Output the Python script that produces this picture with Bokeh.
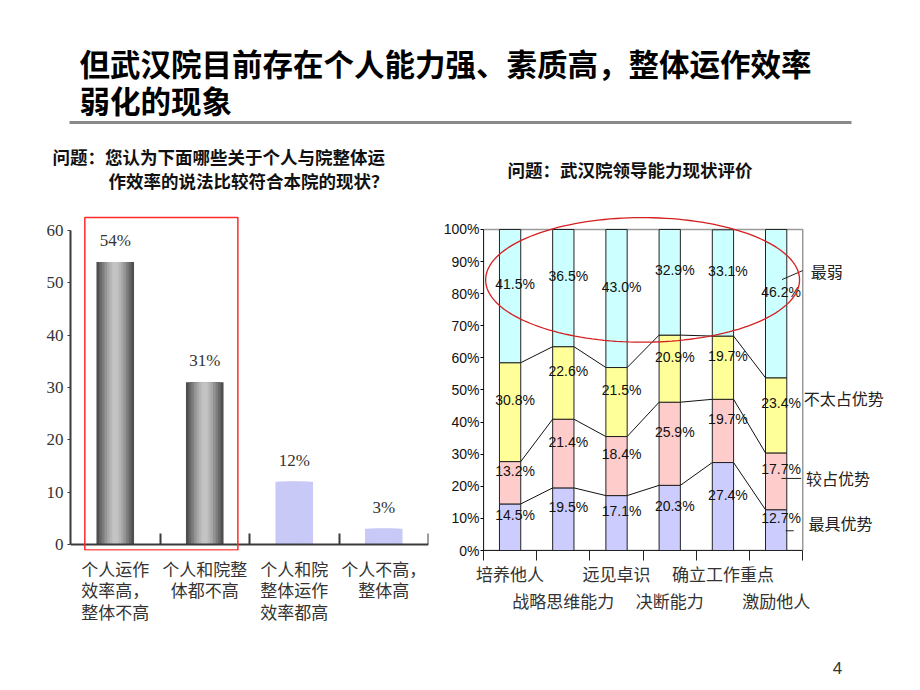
import numpy as np
from bokeh.plotting import figure
from bokeh.models import (Range1d, FixedTicker, Label, ColumnDataSource, BoxAnnotation,
                          PolyAnnotation, LinearAxis, PrintfTickFormatter)
from bokeh.layouts import column, row
from bokeh.embed import file_html
from bokeh.resources import INLINE
from bokeh.core.properties import value

# ---------------- data ----------------
title_lines = ["但武汉院目前存在个人能力强、素质高，整体运作效率", "弱化的现象"]
q_left = ["问题：您认为下面哪些关于个人与院整体运", "作效率的说法比较符合本院的现状？"]
q_right = "问题：武汉院领导能力现状评价"
page_no = "4"

left_cats = ["个人运作\n效率高，\n整体不高", "个人和院整\n体都不高", "个人和院\n整体运作\n效率都高", "个人不高，\n整体高"]
left_vals = [54, 31, 12, 3]
left_labels = ["54%", "31%", "12%", "3%"]
left_kind = ["grad", "grad", "flat", "flat"]
left_yticks = [0, 10, 20, 30, 40, 50, 60]

right_cats = ["培养他人", "战略思维能力", "远见卓识", "决断能力", "确立工作重点", "激励他人"]
series_names = ["最具优势", "较占优势", "不太占优势", "最弱"]
s_best = [14.5, 19.5, 17.1, 20.3, 27.4, 12.7]
s_good = [13.2, 21.4, 18.4, 25.9, 19.7, 17.7]
s_weakish = [30.8, 22.6, 21.5, 20.9, 19.7, 23.4]
s_weakest = [41.5, 36.5, 43.0, 32.9, 33.1, 46.2]
right_yticks = list(range(0, 101, 10))

# ---------------- styles ----------------
CJK = "Noto Sans CJK SC"
SERIF = "'Liberation Serif', 'Noto Sans CJK SC'"
SANS = "'Liberation Sans', 'Noto Sans CJK SC'"
series_colors = ["#ccccff", "#ffcccc", "#ffff99", "#ccffff"]

# ---------------- header ----------------
HDR_H = 195
hdr = figure(width=920, height=HDR_H, x_range=Range1d(0, 920), y_range=Range1d(HDR_H, 0),
             output_backend="svg", toolbar_location=None, min_border=0,
             outline_line_color=None)
hdr.axis.visible = False
hdr.grid.visible = False
title_y = [62, 99]
for t, ty in zip(title_lines, title_y):
    hdr.add_layout(Label(x=79, y=ty, text=t, text_font=CJK, text_font_size="30.5px",
                         text_font_style="bold", text_baseline="middle", text_color="#000000"))
hdr.line([69, 851], [122, 122], line_color="#8a8a8a", line_width=3)
hdr.add_layout(Label(x=52, y=156, text=q_left[0], text_font=CJK, text_font_size="17.5px",
                     text_font_style="bold", text_baseline="middle", text_color="#111111"))
hdr.add_layout(Label(x=108, y=180, text=q_left[1], text_font=CJK, text_font_size="17.5px",
                     text_font_style="bold", text_baseline="middle", text_color="#111111"))
hdr.add_layout(Label(x=507, y=169, text=q_right, text_font=CJK, text_font_size="17.5px",
                     text_font_style="bold", text_baseline="middle", text_color="#111111"))

ROW_H = 462
TOP_B = 19
BOT_B = 107

# ---------------- left chart ----------------
n = len(left_vals)
xs = list(range(n))
pl = figure(width=440, height=ROW_H, x_range=Range1d(-0.5, n - 0.5), y_range=Range1d(-1.15, 63.06),
            output_backend="svg", toolbar_location=None, outline_line_color=None,
            min_border_left=70, min_border_right=12, min_border_top=TOP_B, min_border_bottom=BOT_B)
pl.grid.visible = False

grad = ["#4f4f4f", "#666666", "#7d7d7d", "#939393", "#a7a7a7", "#b7b7b7", "#c3c3c3"]
fracs = [1.0, 0.86, 0.72, 0.58, 0.44, 0.30, 0.16]
for f, c in zip(fracs, grad):
    cols = [c if k == "grad" else "#c9c9f8" for k in left_kind]
    pl.vbar(x=xs, top=left_vals, bottom=0, width=0.42 * f, fill_color=cols, line_color=None)

pl.text(x=xs, y=left_vals, text=left_labels, text_align="center", text_baseline="bottom",
        y_offset=-12, text_font=value(SERIF), text_font_size="17px", text_color="#333333")

pl.yaxis.ticker = FixedTicker(ticks=left_yticks)
pl.yaxis.bounds = (0, 60)
pl.yaxis.axis_line_color = "#3a3a3a"
pl.yaxis.axis_line_width = 2
pl.yaxis.major_tick_out = 3
pl.yaxis.major_tick_in = 0
pl.yaxis.major_tick_line_color = "#3a3a3a"
pl.yaxis.minor_tick_line_color = None
pl.yaxis.major_label_standoff = 4
pl.yaxis.major_label_text_font = SERIF
pl.yaxis.major_label_text_font_size = "17px"
pl.yaxis.major_label_text_color = "#333333"

# axis line + boundary ticks at y = 0
pl.xaxis.fixed_location = 0
pl.xaxis.ticker = FixedTicker(ticks=xs, minor_ticks=[x + 0.5 for x in xs])
pl.xaxis.major_label_overrides = {x: "" for x in xs}
pl.xaxis.major_label_text_font_size = "1px"
pl.xaxis.major_label_standoff = 0
pl.xaxis.axis_line_color = "#3a3a3a"
pl.xaxis.axis_line_width = 2
pl.xaxis.major_tick_line_color = None
pl.xaxis.major_tick_out = 0
pl.xaxis.major_tick_in = 0
pl.xaxis.minor_tick_in = 11
pl.xaxis.minor_tick_out = 0
pl.xaxis.minor_tick_line_color = "#3a3a3a"
pl.xaxis.minor_tick_line_width = 2

# category labels
axl = LinearAxis(ticker=FixedTicker(ticks=xs, minor_ticks=[]),
                 major_label_overrides={x: c for x, c in zip(xs, left_cats)})
axl.axis_line_color = None
axl.major_tick_line_color = None
axl.minor_tick_line_color = None
axl.major_tick_out = 0
axl.major_tick_in = 0
axl.major_label_standoff = 5
axl.major_label_text_font = CJK
axl.major_label_text_font_size = "17px"
axl.major_label_text_line_height = 0.86
axl.major_label_text_color = "#333333"
pl.add_layout(axl, "below")

pl.add_layout(BoxAnnotation(left=-0.34, right=1.37, bottom=-1.05, top=62.5, fill_alpha=0,
                            line_color="#ff2a2a", line_alpha=1, line_width=1.5))

# ---------------- right chart ----------------
m = len(right_cats)
rx = list(range(m))
pr = figure(width=480, height=ROW_H, x_range=Range1d(-0.5, 7.525), y_range=Range1d(0, 104.67),
            output_backend="svg", toolbar_location=None, outline_line_color=None,
            min_border_left=42, min_border_right=10, min_border_top=TOP_B, min_border_bottom=BOT_B)
pr.grid.visible = False

# plot-area border
pr.add_layout(BoxAnnotation(left=-0.5, right=m - 0.5, bottom=0, top=100, fill_alpha=0,
                            line_color="#9a9a9a", line_alpha=1, line_width=1.5, level="underlay"))

series = [s_best, s_good, s_weakish, s_weakest]
keys = ["best", "good", "weakish", "weakest"]
src = ColumnDataSource(dict(x=rx, best=s_best, good=s_good, weakish=s_weakish, weakest=s_weakest))
bw = 0.4
pr.vbar_stack(keys, x="x", width=bw, fill_color=series_colors, line_color="#222222",
              line_width=1, source=src)

cum = np.cumsum(np.array(series), axis=0)
bottoms = cum - np.array(series)
# series lines
for k in range(len(series) - 1):
    pr.segment(x0=[i + bw / 2 for i in rx[:-1]], y0=list(cum[k][:-1]),
               x1=[i + 1 - bw / 2 for i in rx[:-1]], y1=list(cum[k][1:]),
               line_color="#111111", line_width=1)
# segment labels
for k, s in enumerate(series):
    mids = list(bottoms[k] + np.array(s) / 2)
    pr.text(x=rx, y=mids, text=[f"{v:.1f}%" for v in s], text_align="center",
            text_baseline="middle", x_offset=5, y_offset=-12, text_font=value(SANS),
            text_font_size="14px", text_color="#111111")

# ellipse highlight
t = np.linspace(0, 2 * np.pi, 160)
pr.add_layout(PolyAnnotation(xs=list(2.49 + 2.95 * np.cos(t)), ys=list(84.3 + 19.4 * np.sin(t)),
                             fill_alpha=0, line_color="#d42020", line_alpha=1, line_width=1.3))

# series names near last bar
last = m - 1
mids_last = [bottoms[k][last] + series[k][last] / 2 for k in range(len(series))]
name_dx = [0.61, 0.56, 0.52, 0.65]
name_dy = [7, 3, 17, 33]
for k in range(len(series)):
    pr.add_layout(Label(x=last + name_dx[k], y=mids_last[k], y_offset=name_dy[k],
                        text=series_names[k], text_font=CJK, text_font_size="16px",
                        text_baseline="middle", text_color="#222222"))
# leader lines
pr.segment(x0=[last + 0.11], y0=[mids_last[3] + 7.5], x1=[last + 0.5], y1=[mids_last[3] + 10.3],
           line_color="#222222", line_width=1)
pr.segment(x0=[last + 0.1], y0=[mids_last[1] + 0.9], x1=[last + 0.47], y1=[mids_last[1] + 0.9],
           line_color="#222222", line_width=1)
pr.segment(x0=[last + 0.18], y0=[mids_last[0] - 0.2], x1=[last + 0.33], y1=[mids_last[0] - 0.2],
           line_color="#222222", line_width=1)

pr.yaxis.ticker = FixedTicker(ticks=right_yticks)
pr.yaxis.bounds = (0, 100)
pr.yaxis.formatter = PrintfTickFormatter(format="%d%%")
pr.yaxis.axis_line_color = "#222222"
pr.yaxis.major_tick_out = 3
pr.yaxis.major_tick_in = 0
pr.yaxis.minor_tick_line_color = None
pr.yaxis.major_label_standoff = 1
pr.yaxis.major_label_text_font = SANS
pr.yaxis.major_label_text_font_size = "14px"
pr.yaxis.major_label_text_color = "#111111"

odd = rx[0::2]
even = rx[1::2]
pr.xaxis.bounds = (-0.5, m - 0.5)
pr.xaxis.ticker = FixedTicker(ticks=odd, minor_ticks=[x - 0.5 for x in rx] + [m - 0.5])
pr.xaxis.major_label_overrides = {x: right_cats[x] for x in odd}
pr.xaxis.axis_line_color = "#222222"
pr.xaxis.major_tick_line_color = None
pr.xaxis.major_tick_out = 0
pr.xaxis.major_tick_in = 0
pr.xaxis.minor_tick_out = 10
pr.xaxis.minor_tick_in = 0
pr.xaxis.minor_tick_line_color = "#222222"
pr.xaxis.major_label_standoff = 0
pr.xaxis.major_label_text_font = CJK
pr.xaxis.major_label_text_font_size = "17px"
pr.xaxis.major_label_text_color = "#333333"

ax2 = LinearAxis(ticker=FixedTicker(ticks=even, minor_ticks=[]),
                 major_label_overrides={x: right_cats[x] for x in even})
ax2.axis_line_color = None
ax2.major_tick_line_color = None
ax2.minor_tick_line_color = None
ax2.major_tick_out = 0
ax2.major_tick_in = 0
ax2.major_label_standoff = -1
ax2.major_label_text_font = CJK
ax2.major_label_text_font_size = "17px"
ax2.major_label_text_color = "#333333"
pr.add_layout(ax2, "below")

# ---------------- footer ----------------
FTR_H = 690 - HDR_H - ROW_H
ftr = figure(width=920, height=FTR_H, x_range=Range1d(0, 920),
             y_range=Range1d(HDR_H + ROW_H + FTR_H, HDR_H + ROW_H), output_backend="svg",
             toolbar_location=None, min_border=0, outline_line_color=None)
ftr.axis.visible = False
ftr.grid.visible = False
ftr.add_layout(Label(x=837, y=667, text=page_no, text_font=SANS, text_font_size="17px",
                     text_baseline="middle", text_align="center", text_color="#333333"))

layout = column(hdr, row(pl, pr, spacing=0), ftr, spacing=0)
open("out.html", "w").write(file_html(layout, INLINE))
